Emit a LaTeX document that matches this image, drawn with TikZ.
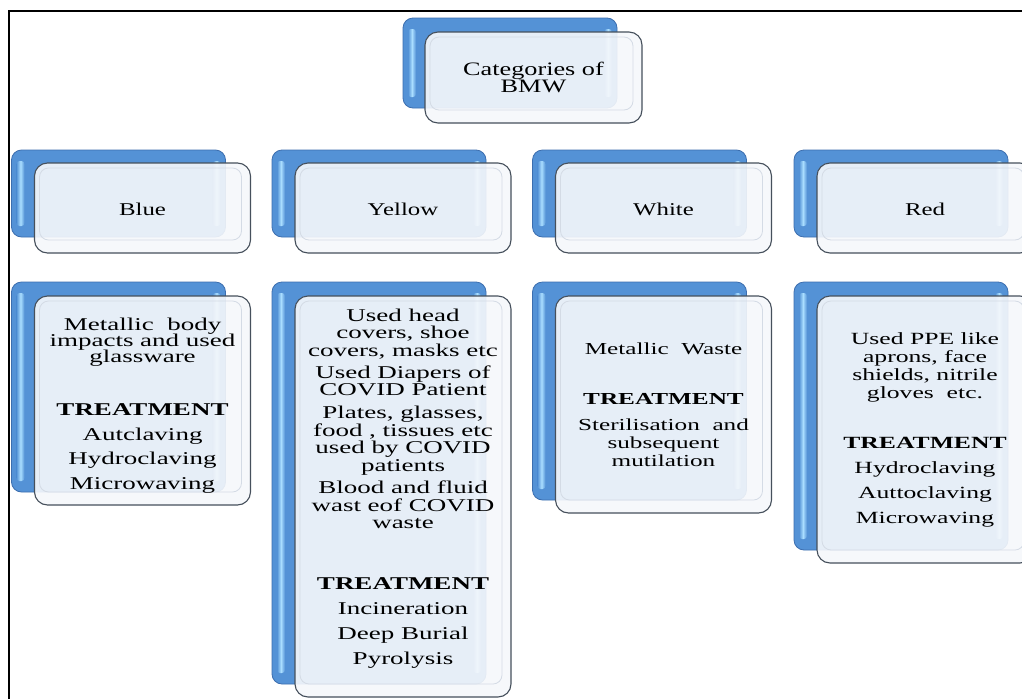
\documentclass[tikz,border=0pt]{standalone}
\usepackage{fontspec}
\setmainfont{Liberation Serif}[FakeStretch=1.38]
\newfontfamily\widefont{Liberation Serif}[FakeStretch=1.5]
\definecolor{bmain}{RGB}{84,146,214}
\definecolor{bedge}{RGB}{60,110,175}
\definecolor{bhi}{RGB}{170,222,255}
\definecolor{conncol}{RGB}{79,129,189}
\definecolor{fedge}{RGB}{70,80,92}
\definecolor{ffill}{RGB}{246,248,251}
\definecolor{innerln}{RGB}{212,219,229}
\pgfdeclarelayer{bg}
\pgfsetlayers{bg,main}
\tikzset{
  backbox/.style={draw=bedge, fill=bmain, line width=0.8pt, rounded corners=10pt, inner sep=0pt, outer sep=0pt},
  frontbox/.style={draw=fedge, fill=ffill, fill opacity=0.9, line width=1.1pt, rounded corners=13pt, inner sep=0pt, outer sep=0pt},
  innerbox/.style={draw=innerln, line width=0.8pt, rounded corners=9pt},
  stripe/.style={left color=bmain, right color=bmain, middle color=bhi, rounded corners=3pt},
  conn/.style={draw=conncol, line width=1.3pt},
  lbl/.style={inner sep=0pt, outer sep=0pt, align=center, text=black},
}
\newcommand\bkbox[5]{%
  \node[backbox, minimum width=#4pt, minimum height=#5pt] (#1) at (#2,#3) {};
  \shade[stripe] ([xshift=5pt,yshift=-11pt]#1.north west) rectangle ([xshift=13pt,yshift=11pt]#1.south west);
  \shade[stripe] ([xshift=-13pt,yshift=-11pt]#1.north east) rectangle ([xshift=-5pt,yshift=11pt]#1.south east);
}
\newcommand\frbox[5]{%
  \node[frontbox, minimum width=#4pt, minimum height=#5pt] (#1) at (#2,#3) {};
  \draw[innerbox] ([xshift=5pt,yshift=-5pt]#1.north west) rectangle ([xshift=-9pt,yshift=13pt]#1.south east);
}
\newcommand\txtfont[2]{\fontsize{#1}{#2}\selectfont\lineskiplimit=-100pt\lineskip=0pt}
\newcommand\widetxt[2]{\widefont\fontsize{#1}{#2}\selectfont\lineskiplimit=-100pt\lineskip=0pt}
\begin{document}
\begin{tikzpicture}[x=1pt,y=-1pt]
\useasboundingbox (0,0) rectangle (1022,699);
\clip (0,0) rectangle (1022,699);
\fill[white] (0,0) rectangle (1022,699);
\draw[black, line width=1.3pt] (9,699) -- (9,11) -- (1022,11);

% root
\bkbox{rootB}{510}{63}{214}{90}
\frbox{rootF}{533.5}{77.5}{217}{91}
% headers
\bkbox{blueB}{118.5}{193.5}{214}{87}
\frbox{blueF}{142.5}{208}{216}{90}
\bkbox{yellowB}{379}{193.5}{214}{87}
\frbox{yellowF}{403}{208}{216}{90}
\bkbox{whiteB}{639.5}{193.5}{214}{87}
\frbox{whiteF}{663.5}{208}{216}{90}
\bkbox{redB}{901}{193.5}{214}{87}
\frbox{redF}{925}{208}{216}{90}
% children
\bkbox{blueC}{118.5}{387}{214}{210}
\frbox{blueCF}{142.5}{400.5}{216}{209}
\bkbox{yellowC}{379}{483}{214}{402}
\frbox{yellowCF}{403}{496.5}{216}{401}
\bkbox{whiteC}{639.5}{391}{214}{218}
\frbox{whiteCF}{663.5}{404.5}{216}{217}
\bkbox{redC}{901}{416}{214}{268}
\frbox{redCF}{925}{429.5}{216}{267}

% texts
\node[lbl, anchor=north, font=\txtfont{19}{17}] (rootT) at (533.5,60) {\rule{0pt}{15pt}Categories of\\BMW};
\node[lbl, anchor=base, font=\txtfont{18}{18}] (blueT) at (142.5,215) {Blue};
\node[lbl, anchor=base, font=\txtfont{18}{18}] (yellowT) at (403,215) {Yellow};
\node[lbl, anchor=base, font=\txtfont{18}{18}] (whiteT) at (663.5,215) {White};
\node[lbl, anchor=base, font=\txtfont{18}{18}] (redT) at (925,215) {Red};

\node[lbl, anchor=north, font=\widetxt{18}{16}] (blueCT) at (142.5,315)
 {\rule{0pt}{15pt}Metallic\ \ body\\impacts and used\\glassware\\[37pt]\textbf{TREATMENT}\\[9pt]Autclaving\\[8pt]Hydroclaving\\[9pt]Microwaving};
\node[lbl, anchor=north, font=\widetxt{18}{17.5}] (yellowCT) at (403,306)
 {\rule{0pt}{15pt}Used head\\covers, shoe\\covers, masks etc\\[4.5pt]Used Diapers of\\COVID Patient\\[5.5pt]Plates, glasses,\\food , tissues etc\\used by COVID\\patients\\[5pt]Blood and fluid\\wast eof COVID\\waste\\[43.5pt]\textbf{TREATMENT}\\[7.5pt]Incineration\\[7.5pt]Deep Burial\\[7.5pt]Pyrolysis};
\node[lbl, anchor=north, font=\widetxt{16.8}{18}] (whiteCT) at (663.5,339)
 {\rule{0pt}{15pt}Metallic\ \ Waste\\[32pt]\textbf{TREATMENT}\\[8pt]Sterilisation\ \ and\\subsequent\\mutilation};
\node[lbl, anchor=north, font=\widetxt{17.1}{18}] (redCT) at (925,329)
 {\rule{0pt}{15pt}Used PPE like\\aprons, face\\shields, nitrile\\gloves\ \ etc.\\[32pt]\textbf{TREATMENT}\\[7.5pt]Hydroclaving\\[7pt]Auttoclaving\\[6.5pt]Microwaving};

% connectors
\coordinate (bus) at (0,139);
\coordinate (r2) at ([xshift=13pt]rootB.center);
\coordinate (r3) at ([xshift=38pt]rootB.center);
\coordinate (wd) at ([xshift=13.5pt]whiteB.north);
\coordinate (rd) at ([xshift=38pt]redB.north);
\begin{pgfonlayer}{bg}
  \draw[conn] (rootB.center) -- (rootB.center |- bus);
  \draw[conn] (r2) -- (r2 |- bus);
  \draw[conn] (r3) -- (r3 |- bus);
  \draw[conn] (blueB.north |- bus) -- (rd |- bus);
  \draw[conn] (blueB.north |- bus) -- (blueB.north);
  \draw[conn] (yellowB.north |- bus) -- (yellowB.north);
  \draw[conn] (wd |- bus) -- (wd);
  \draw[conn] (rd |- bus) -- (rd);
  \draw[conn] (blueB.center) -- (blueC.north);
  \draw[conn] (yellowB.center) -- (yellowC.north);
  \draw[conn] (whiteB.center) -- (whiteC.north);
  \draw[conn] (redB.center) -- (redC.north);
\end{pgfonlayer}
\end{tikzpicture}
\end{document}
